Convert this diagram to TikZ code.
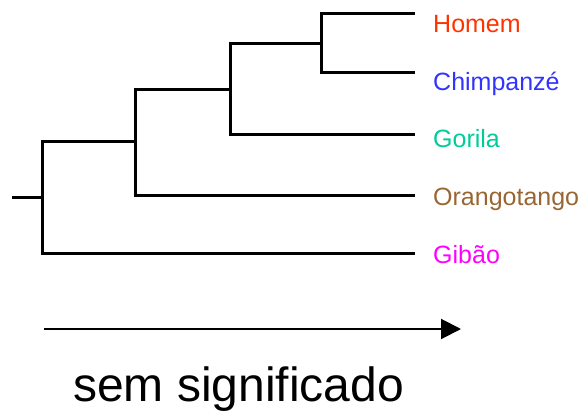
\documentclass[tikz,border=0pt]{standalone}
\usepackage{fontspec}
\setmainfont{Liberation Sans}
\usetikzlibrary{arrows.meta}

\definecolor{homemcol}{HTML}{FF3300}
\definecolor{chimpcol}{HTML}{3333FF}
\definecolor{gorilacol}{HTML}{00CC99}
\definecolor{orangcol}{HTML}{996633}
\definecolor{gibaocol}{HTML}{FF00FF}

\begin{document}
\begin{tikzpicture}[
    x=1pt, y=-1pt,
    branch/.style={draw=black, line width=3pt},
    taxon/.style={anchor=base west, inner sep=0pt, font=\fontsize{25}{30}\selectfont},
    axis/.style={draw=black, line width=2pt, -{Triangle[length=20pt,width=20pt]}},
    caption/.style={anchor=base, inner sep=0pt, font=\fontsize{48}{56}\selectfont}
]
\useasboundingbox (0,0) rectangle (588,411);

% Internal nodes
\coordinate (root) at (12,197.5);
\coordinate (n1) at (42,197.5);
\coordinate (n2) at (135,142);
\coordinate (n3) at (230,89.5);
\coordinate (n4) at (321,43.5);

% Leaves
\coordinate (homem) at (415,14);
\coordinate (chimp) at (415,73);
\coordinate (gorila) at (415,135);
\coordinate (orang) at (415,196);
\coordinate (gibao) at (415,254);

% Branches
\draw[branch] (root) -- (n1);
\draw[branch] (n1) |- (gibao);
\draw[branch] (n1) |- (n2);
\draw[branch] (n2) |- (orang);
\draw[branch] (n2) |- (n3);
\draw[branch] (n3) |- (gorila);
\draw[branch] (n3) |- (n4);
\draw[branch] (n4) |- (homem);
\draw[branch] (n4) |- (chimp);

% Species names
\node[taxon, text=homemcol] (lhomem) at (433,33) {Homem};
\node[taxon, text=chimpcol] (lchimp) at (433,90.5) {Chimpanzé};
\node[taxon, text=gorilacol] (lgorila) at (433,148) {Gorila};
\node[taxon, text=orangcol] (lorang) at (433,205.5) {Orangotango};
\node[taxon, text=gibaocol] (lgibao) at (433,263) {Gibão};

% Horizontal axis
\coordinate (axstart) at (44,329);
\coordinate (axend) at (461,329);
\draw[axis] (axstart) -- (axend);
\node[caption] (label) at (238.5,401) {sem significado};

\end{tikzpicture}
\end{document}
